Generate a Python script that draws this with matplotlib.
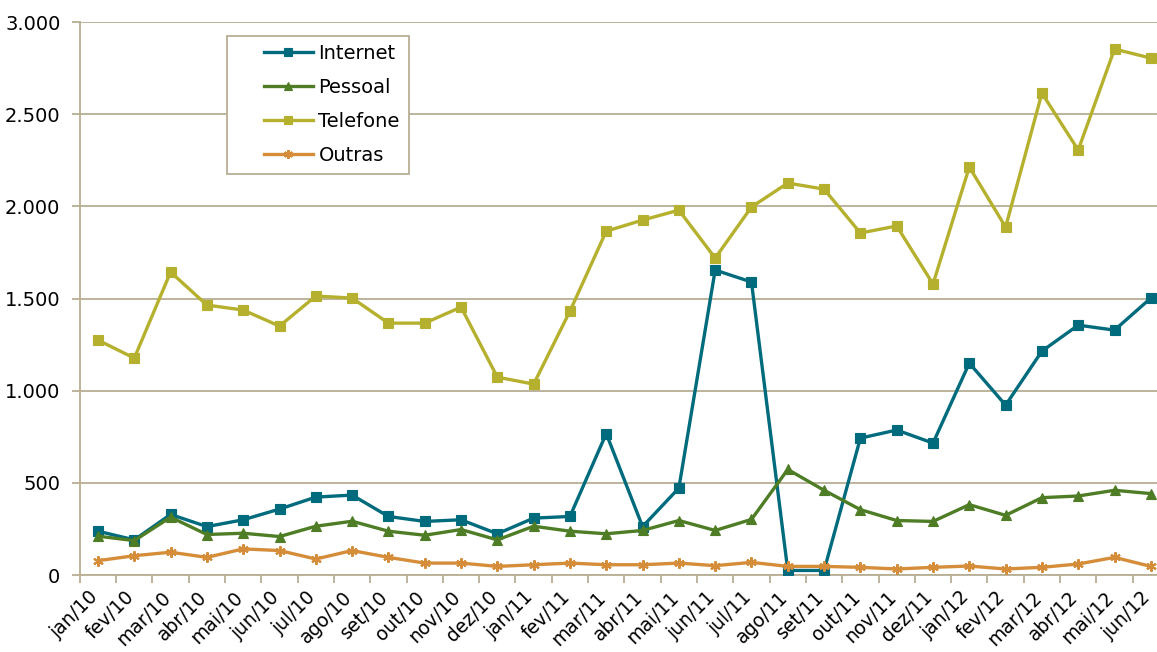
import numpy as np
import matplotlib
matplotlib.use("Agg")
import matplotlib.pyplot as plt
from matplotlib.patches import Rectangle
from matplotlib.ticker import FuncFormatter, FixedLocator

# month labels (jan/10 .. jun/12)
months = ["jan/10", "fev/10", "mar/10", "abr/10", "mai/10", "jun/10",
          "jul/10", "ago/10", "set/10", "out/10", "nov/10", "dez/10",
          "jan/11", "fev/11", "mar/11", "abr/11", "mai/11", "jun/11",
          "jul/11", "ago/11", "set/11", "out/11", "nov/11", "dez/11",
          "jan/12", "fev/12", "mar/12", "abr/12", "mai/12", "jun/12"]

internet = [238, 191, 329, 263, 300, 358, 423, 434, 318, 291, 300, 224,
            309, 318, 768, 263, 472, 1655, 1590, 25, 25, 743, 787, 716,
            1150, 922, 1215, 1356, 1329, 1503]
pessoal = [211, 187, 314, 220, 227, 209, 265, 292, 238, 216, 247, 191,
           265, 238, 224, 242, 296, 242, 302, 573, 460, 355, 296, 291,
           382, 324, 420, 429, 460, 442]
telefone = [1275, 1177, 1644, 1465, 1438, 1351, 1514, 1503, 1367, 1367, 1454, 1074,
            1036, 1432, 1866, 1926, 1980, 1720, 1997, 2127, 2094, 1856, 1894, 1579,
            2214, 1888, 2615, 2306, 2854, 2805]
outras = [78, 105, 124, 96, 142, 133, 87, 133, 96, 65, 65, 47,
          56, 65, 56, 56, 65, 51, 69, 47, 47, 42, 33, 42,
          49, 33, 42, 60, 96, 47]

series = [("Internet", internet, "#006B7D", "s"),
          ("Pessoal", pessoal, "#4E7D26", "^"),
          ("Telefone", telefone, "#B5B02E", "s"),
          ("Outras", outras, "#D58D3A", (6, 2, 0))]

grid_col = "#B8AE94"
W, H = 1157, 652

fig = plt.figure(figsize=(W / 100, H / 100), dpi=100)
ax = fig.add_axes([0.069, 0.118, 0.931, 0.848])

x = np.arange(len(months))
for name, vals, col, mk in series:
    ax.plot(x, vals, color=col, lw=2.4, marker=mk, markersize=7.5,
            markeredgewidth=1.5 if mk == (6, 2, 0) else 0.8,
            markeredgecolor=col, markerfacecolor=col, label=name, zorder=3)

ax.set_ylim(0, 3000)
ax.set_xlim(-0.5, 29.17)
ax.set_yticks(np.arange(0, 3001, 500))
ax.yaxis.set_major_formatter(FuncFormatter(lambda v, p: f"{int(v):,}".replace(",", ".")))
ax.grid(axis="y", color=grid_col, lw=1.3, zorder=0)

# labels sit a little left of the category centre, as in the original
ax.set_xticks(x - 0.27)
ax.set_xticklabels(months, rotation=45, ha="right", rotation_mode="anchor")
ax.xaxis.set_minor_locator(FixedLocator(np.arange(-0.5, 30, 1)))
ax.tick_params(axis="x", which="major", length=0, pad=9, labelsize=13.5, colors="black")
ax.tick_params(axis="x", which="minor", length=6, width=1.3, color=grid_col)
ax.tick_params(axis="y", length=6, width=1.3, color=grid_col, labelsize=14, pad=8)

for s in ["top", "right"]:
    ax.spines[s].set_visible(False)
for s in ["left", "bottom"]:
    ax.spines[s].set_color(grid_col)
    ax.spines[s].set_linewidth(1.3)

# legend box drawn separately (Excel-style padding)
ax.add_patch(Rectangle((227 / W, 1 - 174 / H), 182 / W, 138 / H,
                       transform=fig.transFigure, facecolor="white",
                       edgecolor=grid_col, lw=1.3, zorder=4, clip_on=False))
leg = ax.legend(loc="upper left", bbox_to_anchor=(264 / W, 1 - 44 / H),
                bbox_transform=fig.transFigure, fontsize=14, frameon=False,
                handlelength=2.5, borderpad=0, labelspacing=0.77,
                handletextpad=0.3, borderaxespad=0, markerscale=0.85)
leg.set_zorder(5)

fig.savefig("out.png", dpi=100)
